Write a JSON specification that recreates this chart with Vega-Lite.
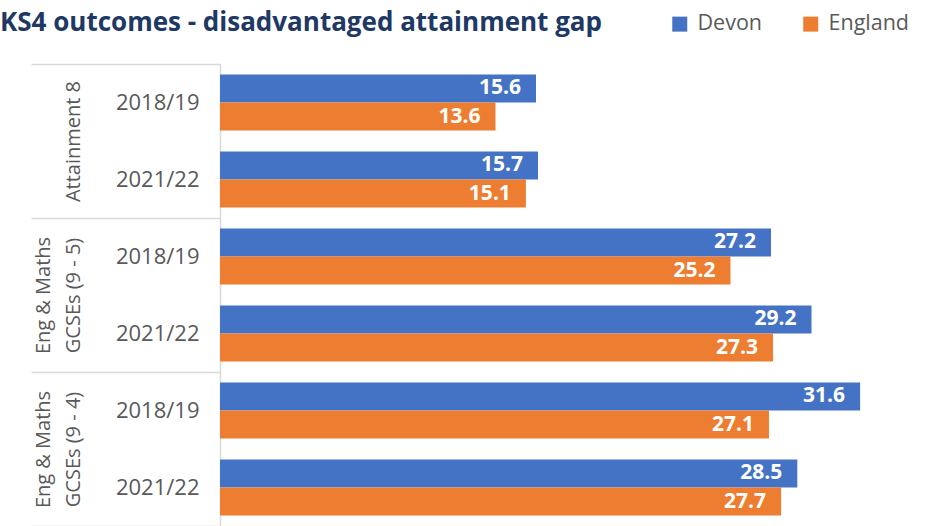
{
  "$schema": "https://vega.github.io/schema/vega-lite/v6.json",
  "width": 709,
  "height": 462,
  "autosize": {"type": "none"},
  "padding": {"left": 220, "top": 64, "right": 4, "bottom": 0},
  "background": "white",
  "config": {"view": {"stroke": null}, "font": "Open Sans"},
  "title": {
    "text": "KS4 outcomes - disadvantaged attainment gap",
    "anchor": "start",
    "frame": "group",
    "dx": -220,
    "fontSize": 26,
    "fontWeight": "bold",
    "font": "Open Sans",
    "color": "#203864",
    "baseline": "alphabetic",
    "offset": 0,
    "dy": 44
  },
  "data": {
    "values": [
      {"group": "|Attainment 8", "key": "Attainment 8|2018/19", "series": "Devon", "value": 15.6},
      {"group": "|Attainment 8", "key": "Attainment 8|2018/19", "series": "England", "value": 13.6},
      {"group": "|Attainment 8", "key": "Attainment 8|2021/22", "series": "Devon", "value": 15.7},
      {"group": "|Attainment 8", "key": "Attainment 8|2021/22", "series": "England", "value": 15.1},
      {"group": "Eng & Maths|GCSEs (9 - 5)", "key": "EM95|2018/19", "series": "Devon", "value": 27.2},
      {"group": "Eng & Maths|GCSEs (9 - 5)", "key": "EM95|2018/19", "series": "England", "value": 25.2},
      {"group": "Eng & Maths|GCSEs (9 - 5)", "key": "EM95|2021/22", "series": "Devon", "value": 29.2},
      {"group": "Eng & Maths|GCSEs (9 - 5)", "key": "EM95|2021/22", "series": "England", "value": 27.3},
      {"group": "Eng & Maths|GCSEs (9 - 4)", "key": "EM94|2018/19", "series": "Devon", "value": 31.6},
      {"group": "Eng & Maths|GCSEs (9 - 4)", "key": "EM94|2018/19", "series": "England", "value": 27.1},
      {"group": "Eng & Maths|GCSEs (9 - 4)", "key": "EM94|2021/22", "series": "Devon", "value": 28.5},
      {"group": "Eng & Maths|GCSEs (9 - 4)", "key": "EM94|2021/22", "series": "England", "value": 27.7}
    ]
  },
  "resolve": {"scale": {"y": "independent"}, "axis": {"y": "independent"}},
  "layer": [
    {
      "encoding": {
        "y": {
          "field": "key",
          "type": "nominal",
          "sort": null,
          "scale": {"paddingInner": 0.27, "paddingOuter": 0.135},
          "axis": {
            "orient": "left",
            "title": null,
            "ticks": false,
            "domain": true,
            "domainColor": "#d9d9d9",
            "domainWidth": 1.5,
            "labelExpr": "isValid(datum.value) ? split(datum.value, '|')[1] : ''",
            "labelFontSize": 22,
            "labelColor": "#595959",
            "labelPadding": 21,
            "labelFont": "Open Sans"
          }
        },
        "yOffset": {"field": "series", "type": "nominal", "scale": {"paddingInner": 0, "paddingOuter": 0}},
        "x": {"field": "value", "type": "quantitative", "scale": {"domain": [0, 35], "nice": false}, "axis": null}
      },
      "layer": [
        {
          "mark": {"type": "bar"},
          "encoding": {
            "color": {
              "field": "series",
              "type": "nominal",
              "scale": {"domain": ["Devon", "England"], "range": ["#4472C4", "#ED7D31"]},
              "legend": {
                "orient": "none",
                "legendX": 449,
                "legendY": -51,
                "direction": "horizontal",
                "title": null,
                "symbolType": "square",
                "symbolSize": 225,
                "symbolStrokeWidth": 0,
                "labelFontSize": 21.5,
                "labelColor": "#595959",
                "labelFont": "Open Sans",
                "columnPadding": 37,
                "labelOffset": 7
              }
            }
          }
        },
        {
          "mark": {"type": "text", "align": "right", "baseline": "middle", "dx": -15, "color": "white", "fontWeight": "bold", "fontSize": 21, "font": "Open Sans"},
          "encoding": {"text": {"field": "value", "type": "quantitative", "format": ".1f"}}
        }
      ]
    },
    {
      "mark": {"type": "text", "opacity": 0},
      "encoding": {
        "text": {"value": ""},
        "y": {
          "field": "group",
          "type": "nominal",
          "sort": null,
          "scale": {"paddingInner": 0, "paddingOuter": 0},
          "axis": {
            "orient": "left",
            "title": null,
            "domain": false,
            "ticks": true,
            "tickBand": "extent",
            "tickSize": 189,
            "tickColor": "#d9d9d9",
            "tickWidth": 1.5,
            "labelAngle": -90,
            "labelAlign": "center",
            "labelBaseline": "bottom",
            "labelExpr": "isValid(datum.value) ? split(datum.value, '|') : ''",
            "labelLineHeight": 30,
            "labelFontSize": 20,
            "labelColor": "#595959",
            "labelFont": "Open Sans",
            "labelPadding": -22
          }
        }
      }
    }
  ]
}
